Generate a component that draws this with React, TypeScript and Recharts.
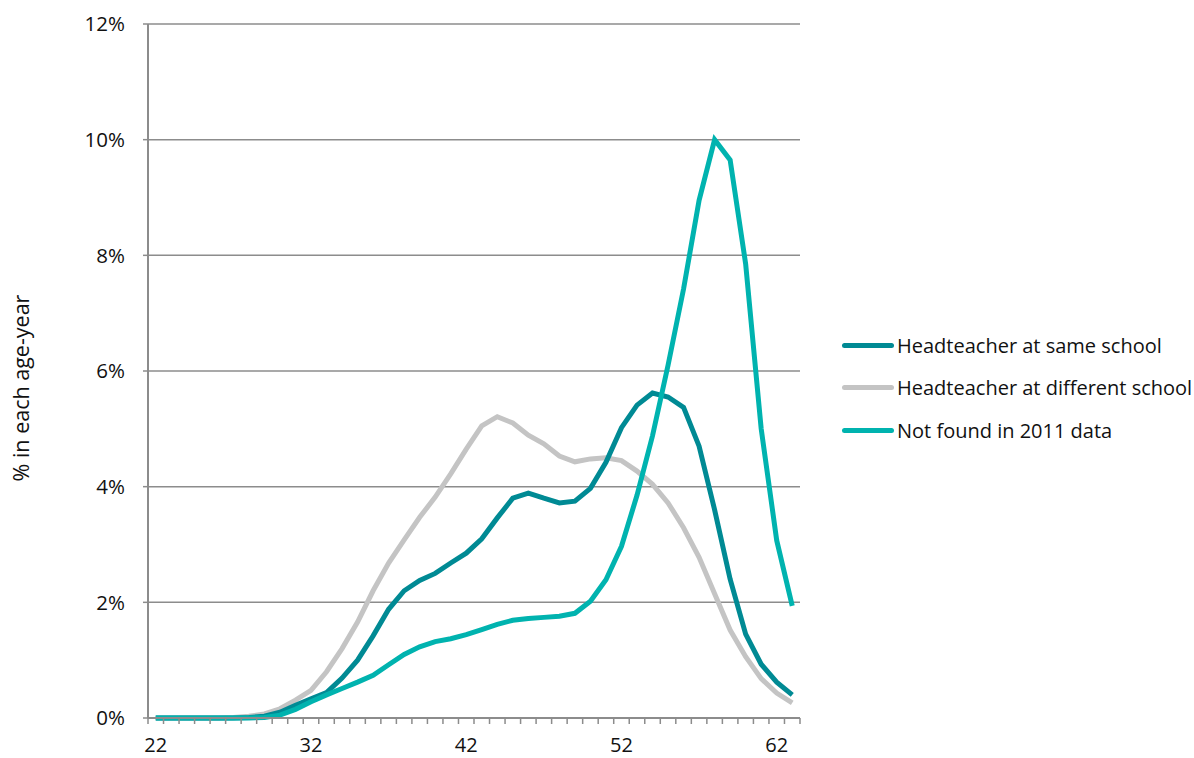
import { LineChart, Line, XAxis, YAxis, CartesianGrid, Legend } from "recharts";

const ages = [
  22, 23, 24, 25, 26, 27, 28, 29, 30, 31, 32, 33, 34, 35, 36, 37, 38, 39, 40, 41, 42,
  43, 44, 45, 46, 47, 48, 49, 50, 51, 52, 53, 54, 55, 56, 57, 58, 59, 60, 61, 62, 63,
];

const sameSchool = [
  0, 0, 0, 0, 0, 0, 0.01, 0.03, 0.1, 0.22, 0.33, 0.44, 0.69, 1.0, 1.42, 1.88, 2.2, 2.38, 2.5, 2.68, 2.85,
  3.1, 3.46, 3.8, 3.89, 3.8, 3.72, 3.75, 3.97, 4.42, 5.02, 5.41, 5.62, 5.55, 5.37, 4.7, 3.6, 2.4, 1.45, 0.93, 0.62, 0.4,
];

const differentSchool = [
  0, 0, 0, 0, 0, 0.01, 0.03, 0.07, 0.16, 0.31, 0.48, 0.8, 1.2, 1.66, 2.2, 2.68, 3.08, 3.47, 3.82, 4.22, 4.65,
  5.05, 5.21, 5.1, 4.89, 4.74, 4.53, 4.43, 4.48, 4.5, 4.45, 4.27, 4.04, 3.72, 3.29, 2.78, 2.15, 1.52, 1.06, 0.68, 0.43, 0.26,
];

const notFound = [
  0, 0, 0, 0, 0, 0, 0, 0.01, 0.05, 0.15, 0.28, 0.4, 0.51, 0.62, 0.74, 0.92, 1.1, 1.23, 1.32, 1.37, 1.44,
  1.53, 1.62, 1.69, 1.72, 1.74, 1.76, 1.81, 2.02, 2.39, 2.97, 3.85, 4.88, 6.1, 7.42, 8.95, 10.0, 9.65, 7.85, 5.0, 3.07, 1.94,
];

const xLabels = [22, 32, 42, 52, 62];
const yTicks = [0, 2, 4, 6, 8, 10, 12];

const series = [
  { key: "same", name: "Headteacher at same school", color: "#008a94" },
  { key: "different", name: "Headteacher at different school", color: "#c4c4c4" },
  { key: "notFound", name: "Not found in 2011 data", color: "#00b3af" },
];

const data = ages.map((age, i) => ({
  age,
  same: sameSchool[i],
  different: differentSchool[i],
  notFound: notFound[i],
}));

// tick marks sit on the boundaries between age-years, labels in the middle
const boundaries = [...ages.map((a) => a - 0.5), ages[ages.length - 1] + 0.5];

const FONT = "'Open Sans', 'Noto Sans', sans-serif";
const GRID = "#8c8c8c";
const TEXT = "#111";
const PLOT_W = 652;
const STEP = PLOT_W / ages.length;

function AgeTick(props: any) {
  const { x, y, payload } = props;
  const age = payload.value + 0.5;
  if (!xLabels.includes(age)) return null;
  return (
    <text x={x + STEP / 2} y={y} dy={26} textAnchor="middle" fill={TEXT} fontSize={20} fontFamily={FONT}>
      {age}
    </text>
  );
}

function LegendBox() {
  return (
    <div style={{ fontFamily: FONT, fontSize: 20, color: TEXT, whiteSpace: "nowrap" }}>
      {series.map((s) => (
        <div key={s.key} style={{ display: "flex", alignItems: "center", height: 42.5 }}>
          <span style={{ width: 52, height: 5, borderRadius: 3, background: s.color, marginRight: 3 }} />
          <span>{s.name}</span>
        </div>
      ))}
    </div>
  );
}

export default function App() {
  return (
    <div style={{ position: "absolute", left: 0, top: 0 }}>
      <LineChart width={1194} height={758} data={data} margin={{ top: 24, right: 394, left: 48, bottom: 10 }}>
        <CartesianGrid horizontal vertical={false} stroke={GRID} strokeWidth={1.5} />
        <XAxis
          dataKey="age"
          type="number"
          domain={[21.5, 63.5]}
          ticks={boundaries}
          interval={0}
          height={30}
          axisLine={{ stroke: GRID, strokeWidth: 2 }}
          tickLine={{ stroke: GRID, strokeWidth: 1.5 }}
          tickSize={6}
          tick={<AgeTick />}
        />
        <YAxis
          type="number"
          domain={[0, 12]}
          ticks={yTicks}
          interval={0}
          width={100}
          tickFormatter={(v) => `${v}%`}
          axisLine={{ stroke: GRID, strokeWidth: 2 }}
          tickLine={{ stroke: GRID, strokeWidth: 1.5 }}
          tickSize={5}
          tickMargin={18}
          tick={{ fill: TEXT, fontSize: 20.5, fontFamily: FONT }}
          label={{
            content: () => (
              <text
                x={20}
                y={388}
                transform="rotate(-90 20 388)"
                textAnchor="middle"
                dominantBaseline="central"
                fill={TEXT}
                fontSize={21.5}
                fontFamily={FONT}
              >
                % in each age-year
              </text>
            ),
          }}
        />
        <Legend
          layout="vertical"
          align="center"
          verticalAlign="middle"
          wrapperStyle={{ left: 842, top: 324, width: 352 }}
          content={() => <LegendBox />}
        />
        {[series[1], series[0], series[2]].map((s) => (
          <Line
            key={s.key}
            dataKey={s.key}
            name={s.name}
            type="linear"
            stroke={s.color}
            strokeWidth={5}
            dot={false}
            activeDot={false}
            isAnimationActive={false}
          />
        ))}
      </LineChart>
    </div>
  );
}
